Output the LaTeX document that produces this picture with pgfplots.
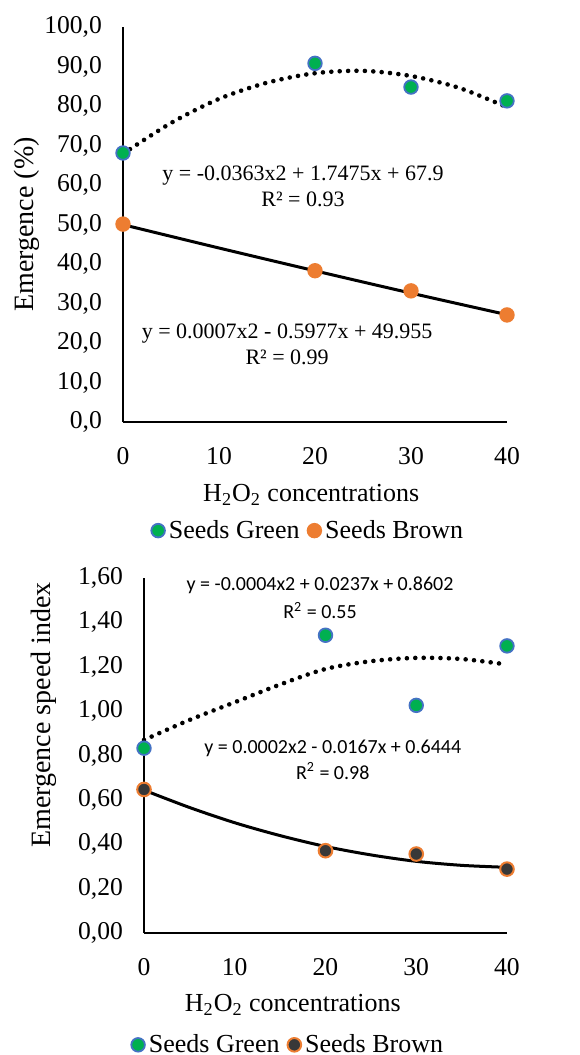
\documentclass[border=0pt]{standalone}
\usepackage{fontspec}
\setmainfont{Liberation Serif}
\newfontfamily\calibri{Carlito}
\usepackage{pgfplots}
\pgfplotsset{compat=1.18}

\definecolor{mgreen}{HTML}{00B050}
\definecolor{mblue}{HTML}{4472C4}
\definecolor{morange}{HTML}{ED7D31}
\definecolor{mdark}{HTML}{383838}

\pgfplotstableread{
x   green brown
0   68.1  50.1
20  90.8  38.3
30  84.8  33.2
40  81.3  27.1
}\emergence

\pgfplotstableread{
x   green brown
0   0.833 0.647
20  1.342 0.371
30  1.026 0.356
40  1.294 0.288
}\speed

\pgfplotsset{
  panel/.style={
    scale only axis,
    axis lines=left,
    axis line style={line width=1.1pt,-},
    xmin=0, xmax=40,
    xtick={0,10,20,30,40},
    major tick length=0pt,
    clip=false,
    /pgf/number format/assume math mode=true,
    tick label style={font=\fontsize{12.8}{14}\selectfont},
    xticklabel style={yshift=-9pt},
    yticklabel style={xshift=-7pt},
    legend columns=2,
    legend style={draw=none, fill=none, font=\fontsize{13}{15}\selectfont,
      /tikz/every even column/.append style={column sep=2pt}},
    legend cell align=left,
    legend image code/.code={\draw[#1] plot coordinates {(0pt,0pt)};},
  },
  trend/.style={black, line width=1.5pt, smooth, forget plot, no marks},
  dotted trend/.style={black, line width=2.3pt, smooth, forget plot, no marks,
    line cap=round, dash pattern=on 0pt off 4.2pt},
}

\begin{document}
\begin{tikzpicture}
\path[use as bounding box] (0,0) rectangle (289.5pt,-527.5pt);

% upper panel
\begin{axis}[panel,
  at={(61.5pt,-211pt)}, anchor=south west,
  width=192pt, height=197.5pt,
  ymin=0, ymax=100, ytick={0,10,...,100},
  yticklabel style={/pgf/number format/.cd, fixed, fixed zerofill, precision=1, use comma},
  xlabel={H\textsubscript{2}O\textsubscript{2} concentrations},
  xlabel style={font=\fontsize{13}{15}\selectfont, at={(axis description cs:0.49,-0.185)}, anchor=center},
  ylabel={Emergence (\%)},
  ylabel style={font=\fontsize{14}{16}\selectfont, at={(axis description cs:-0.25,0.5)}, anchor=center, rotate=0},
  legend style={at={(axis description cs:0.485,-0.275)}, anchor=center},
]
\addplot[dotted trend] coordinates {(0,67.9) (5,75.7) (10,81.8) (15,85.9) (20,88.3) (25,88.9) (30,87.6) (35,84.6) (40,79.7)};
\addplot[trend] coordinates {(0,49.96) (10,44.05) (20,38.28) (30,32.63) (40,27.17)};
\addplot[only marks, mark=*, mark size=3.4pt, mark options={fill=mgreen, draw=mblue, line width=0.9pt}]
  table[x=x, y=green] {\emergence};
\addlegendentry{Seeds Green}
\addplot[only marks, mark=*, mark size=3.4pt, mark options={fill=morange, draw=morange, line width=0.9pt}]
  table[x=x, y=brown] {\emergence};
\addlegendentry{Seeds Brown}
\node[align=center, font=\fontsize{11}{13}\selectfont] at (axis cs:18.75,59.7)
  {y = -0.0363x2 + 1.7475x + 67.9\\R² = 0.93};
\node[align=center, font=\fontsize{11}{13}\selectfont] at (axis cs:17.1,19.6)
  {y = 0.0007x2 - 0.5977x + 49.955\\R² = 0.99};
\end{axis}

% lower panel
\begin{axis}[panel,
  at={(72pt,-466.5pt)}, anchor=south west,
  width=181.5pt, height=177.5pt,
  ymin=0, ymax=1.6, ytick={0,0.2,...,1.6},
  yticklabel style={/pgf/number format/.cd, fixed, fixed zerofill, precision=2, use comma},
  xlabel={H\textsubscript{2}O\textsubscript{2} concentrations},
  xlabel style={font=\fontsize{13}{15}\selectfont, at={(axis description cs:0.41,-0.203)}, anchor=center},
  ylabel={Emergence speed index},
  ylabel style={font=\fontsize{14}{16}\selectfont, at={(axis description cs:-0.275,0.614)}, anchor=center, rotate=0},
  legend style={at={(axis description cs:0.40,-0.315)}, anchor=center},
]
\addplot[dotted trend] coordinates {(0,0.87) (5,0.96) (10,1.04) (15,1.12) (20,1.19) (25,1.225) (30,1.24) (35,1.235) (40,1.21)};
\addplot[trend] coordinates {(0,0.644) (5,0.566) (10,0.497) (15,0.439) (20,0.39) (25,0.352) (30,0.323) (35,0.305) (40,0.296)};
\addplot[only marks, mark=*, mark size=3.4pt, mark options={fill=mgreen, draw=mblue, line width=0.9pt}]
  table[x=x, y=green] {\speed};
\addlegendentry{Seeds Green}
\addplot[only marks, mark=*, mark size=3.4pt, mark options={fill=mdark, draw=morange, line width=1pt}]
  table[x=x, y=brown] {\speed};
\addlegendentry{Seeds Brown}
\node[align=center, font=\calibri\fontsize{10}{14}\selectfont] at (axis cs:19.4,1.512)
  {y = -0.0004x2 + 0.0237x + 0.8602\\R\textsuperscript{2} = 0.55};
\node[align=center, font=\calibri\fontsize{10}{13}\selectfont] at (axis cs:20.8,0.782)
  {y = 0.0002x2 - 0.0167x + 0.6444\\R\textsuperscript{2} = 0.98};
\end{axis}
\end{tikzpicture}
\end{document}
